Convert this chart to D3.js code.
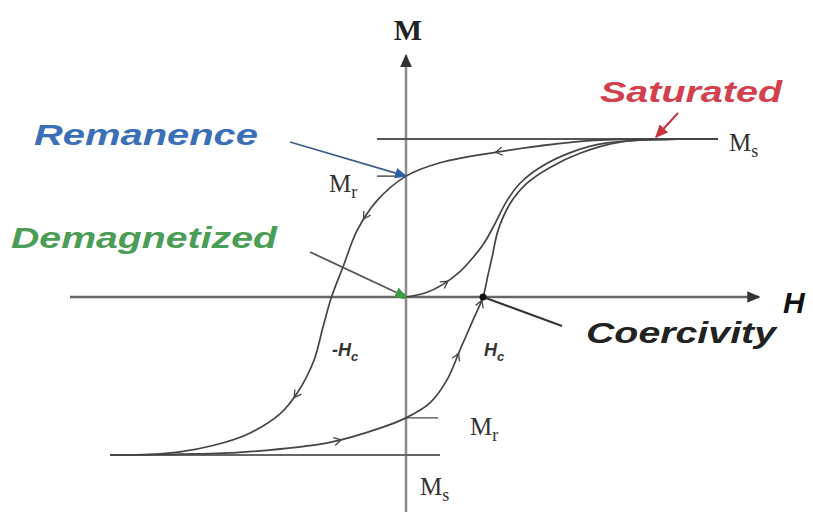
<!DOCTYPE html>
<html>
<head>
<meta charset="utf-8">
<script src="https://cdn.jsdelivr.net/npm/d3@7"></script>
<style>
    body { margin: 0; background: #fff; }
</style>
</head>
<body>
<div id="chart"></div>
<script>

// hysteresis loop, H in field units, M normalised to Ms
const Hc = 0.77;
const Mr = 0.765;

// upper branch, coming down from +Ms
const descending = [
    [3.12, 1.0], [2.14, 0.997], [1.67, 0.98], [0.94, 0.92], [0.34, 0.85],
    [0, Mr], [-0.29, 0.61], [-0.49, 0.42], [-0.63, 0.19], [-0.745, 0],
    [-0.83, -0.19], [-0.92, -0.40], [-1.08, -0.60], [-1.26, -0.74],
    [-1.59, -0.87], [-1.93, -0.94], [-2.26, -0.98], [-2.59, -0.997], [-2.96, -1.0]
];

// lower branch, going up from -Ms
const ascending = [
    [-2.96, -1.0], [-2.26, -0.995], [-1.59, -0.98], [-0.76, -0.92], [-0.26, -0.83],
    [0, -Mr], [0.24, -0.67], [0.41, -0.525], [0.54, -0.335], [0.67, -0.146],
    [Hc, 0], [0.82, 0.14], [0.86, 0.25], [0.92, 0.42], [1.04, 0.59],
    [1.21, 0.72], [1.44, 0.82], [1.74, 0.91], [2.14, 0.98], [2.64, 0.997], [3.12, 1.0]
];

// initial magnetisation curve from the demagnetised state
const initial = [
    [0, 0], [0.19, 0.025], [0.37, 0.08], [0.54, 0.16], [0.67, 0.25], [0.78, 0.34],
    [0.87, 0.44], [1.01, 0.61], [1.14, 0.72], [1.34, 0.82], [1.67, 0.92],
    [2.01, 0.975], [2.54, 0.997], [3.12, 1.0]
];

// where the little direction arrows sit (fraction of path length)
const arrowsDescending = [0.29, 0.49, 0.74];
const arrowsAscending = [0.30, 0.50, 0.575];
const arrowsInitial = [0.12];

let width = 813, height = 515;

let svg = d3.select("#chart").append("svg")
    .attr("width", width)
    .attr("height", height)
    .style("font-family", "'Liberation Sans', Arial, sans-serif");

let x = d3.scaleLinear().domain([-3, 3]).range([106, 706]);
let y = d3.scaleLinear().domain([-1, 1]).range([455, 139]);

let defs = svg.append("defs");

function marker(id, color, size) {
    defs.append("marker")
        .attr("id", id)
        .attr("viewBox", "0 -5 10 10")
        .attr("refX", 9)
        .attr("refY", 0)
        .attr("markerWidth", size)
        .attr("markerHeight", size)
        .attr("markerUnits", "userSpaceOnUse")
        .attr("orient", "auto")
        .append("path")
        .attr("d", "M0,-4.5L10,0L0,4.5Z")
        .attr("fill", color);
}
marker("axisHead", "#333", 13);
marker("redHead", "#c8323c", 13);
marker("blueHead", "#2a5ea8", 12);
marker("greenHead", "#3f9a4a", 12);

// axes
svg.append("line")
    .attr("x1", x(-3.36)).attr("x2", x(3.53))
    .attr("y1", y(0)).attr("y2", y(0))
    .attr("stroke", "#666").attr("stroke-width", 2.5)
    .attr("marker-end", "url(#axisHead)");

svg.append("line")
    .attr("x1", x(0)).attr("x2", x(0))
    .attr("y1", y(-1.36)).attr("y2", y(1.53))
    .attr("stroke", "#8a8a8a").attr("stroke-width", 2.5)
    .attr("marker-end", "url(#axisHead)");

// saturation lines and remanence ticks
svg.append("line")
    .attr("x1", x(-0.29)).attr("x2", x(3.12))
    .attr("y1", y(1)).attr("y2", y(1))
    .attr("stroke", "#555").attr("stroke-width", 2.2);

svg.append("line")
    .attr("x1", x(-2.96)).attr("x2", x(0.34))
    .attr("y1", y(-1)).attr("y2", y(-1))
    .attr("stroke", "#666").attr("stroke-width", 2.2);

svg.append("line")
    .attr("x1", x(-0.29)).attr("x2", x(0))
    .attr("y1", y(Mr)).attr("y2", y(Mr))
    .attr("stroke", "#555").attr("stroke-width", 1.5);

svg.append("line")
    .attr("x1", x(0)).attr("x2", x(0.32))
    .attr("y1", y(-Mr)).attr("y2", y(-Mr))
    .attr("stroke", "#666").attr("stroke-width", 1.5);

// curves
let line = d3.line()
    .x(d => x(d[0]))
    .y(d => y(d[1]))
    .curve(d3.curveCatmullRom.alpha(0.5));

function branch(data, arrows) {
    let p = svg.append("path")
        .datum(data)
        .attr("d", line)
        .attr("fill", "none")
        .attr("stroke", "#444")
        .attr("stroke-width", 1.7);

    let node = p.node();
    let total = node.getTotalLength();
    arrows.forEach(f => {
        let a = node.getPointAtLength(total * f);
        let b = node.getPointAtLength(total * f + 1);
        let angle = Math.atan2(b.y - a.y, b.x - a.x) * 180 / Math.PI;
        svg.append("path")
            .attr("d", "M-7,-4L0,0L-7,4")
            .attr("fill", "none")
            .attr("stroke", "#444")
            .attr("stroke-width", 1.3)
            .attr("transform", `translate(${a.x},${a.y}) rotate(${angle})`);
    });
}

branch(descending, arrowsDescending);
branch(ascending, arrowsAscending);
branch(initial, arrowsInitial);

// axis titles
svg.append("text")
    .attr("x", x(0) + 2).attr("y", 40)
    .attr("text-anchor", "middle")
    .style("font-family", "'Liberation Serif', 'Times New Roman', serif")
    .style("font-weight", "bold")
    .style("font-size", "30px")
    .attr("fill", "#222")
    .text("M");

svg.append("text")
    .attr("x", 783).attr("y", 313)
    .style("font-weight", "bold")
    .style("font-style", "italic")
    .style("font-size", "30px")
    .attr("fill", "#111")
    .text("H");

// serif M labels with subscripts
function mLabel(px, py, sub) {
    let t = svg.append("text")
        .attr("x", px).attr("y", py)
        .style("font-family", "'Liberation Serif', 'Times New Roman', serif")
        .style("font-size", "25px")
        .attr("fill", "#333");
    t.append("tspan").text("M");
    t.append("tspan")
        .attr("dy", 6)
        .style("font-size", "18px")
        .text(sub);
}
mLabel(729, 151, "s");
mLabel(329, 192, "r");
mLabel(470, 435, "r");
mLabel(420, 495, "s");

// coercive field labels
function hLabel(px, py, txt) {
    let t = svg.append("text")
        .attr("x", px).attr("y", py)
        .style("font-weight", "bold")
        .style("font-style", "italic")
        .style("font-size", "18px")
        .attr("fill", "#333");
    t.append("tspan").text(txt);
    t.append("tspan")
        .attr("dy", 5)
        .style("font-size", "13px")
        .text("c");
}
hLabel(332, 356, "-H");
hLabel(484, 356, "H");

// annotations
function note(txt, px, py, len, color) {
    svg.append("text")
        .attr("x", px).attr("y", py)
        .attr("textLength", len)
        .attr("lengthAdjust", "spacingAndGlyphs")
        .style("font-weight", "bold")
        .style("font-style", "italic")
        .style("font-size", "29px")
        .attr("fill", color)
        .text(txt);
}
note("Saturated", 600, 102, 182, "#d1404c");
note("Remanence", 34, 145, 224, "#3a6fb8");
note("Demagnetized", 11, 248, 266, "#4a9d55");
note("Coercivity", 586, 343, 190, "#222");

svg.append("line")
    .attr("x1", 678).attr("y1", 113)
    .attr("x2", x(2.5)).attr("y2", y(1) - 2)
    .attr("stroke", "#c8323c").attr("stroke-width", 2)
    .attr("marker-end", "url(#redHead)");

svg.append("line")
    .attr("x1", 290).attr("y1", 142)
    .attr("x2", x(0)).attr("y2", y(Mr))
    .attr("stroke", "#3d5d8a").attr("stroke-width", 1.8)
    .attr("marker-end", "url(#blueHead)");

svg.append("line")
    .attr("x1", 310).attr("y1", 252)
    .attr("x2", x(0)).attr("y2", y(0))
    .attr("stroke", "#555").attr("stroke-width", 1.8)
    .attr("marker-end", "url(#greenHead)");

svg.append("line")
    .attr("x1", 562).attr("y1", 326)
    .attr("x2", x(Hc)).attr("y2", y(0))
    .attr("stroke", "#333").attr("stroke-width", 2);

svg.append("circle")
    .attr("cx", x(Hc)).attr("cy", y(0))
    .attr("r", 3.5)
    .attr("fill", "#111");

svg.append("circle")
    .attr("cx", x(0) - 3).attr("cy", y(0) - 1)
    .attr("r", 3)
    .attr("fill", "#3f9a4a");

</script>
</body>
</html>
